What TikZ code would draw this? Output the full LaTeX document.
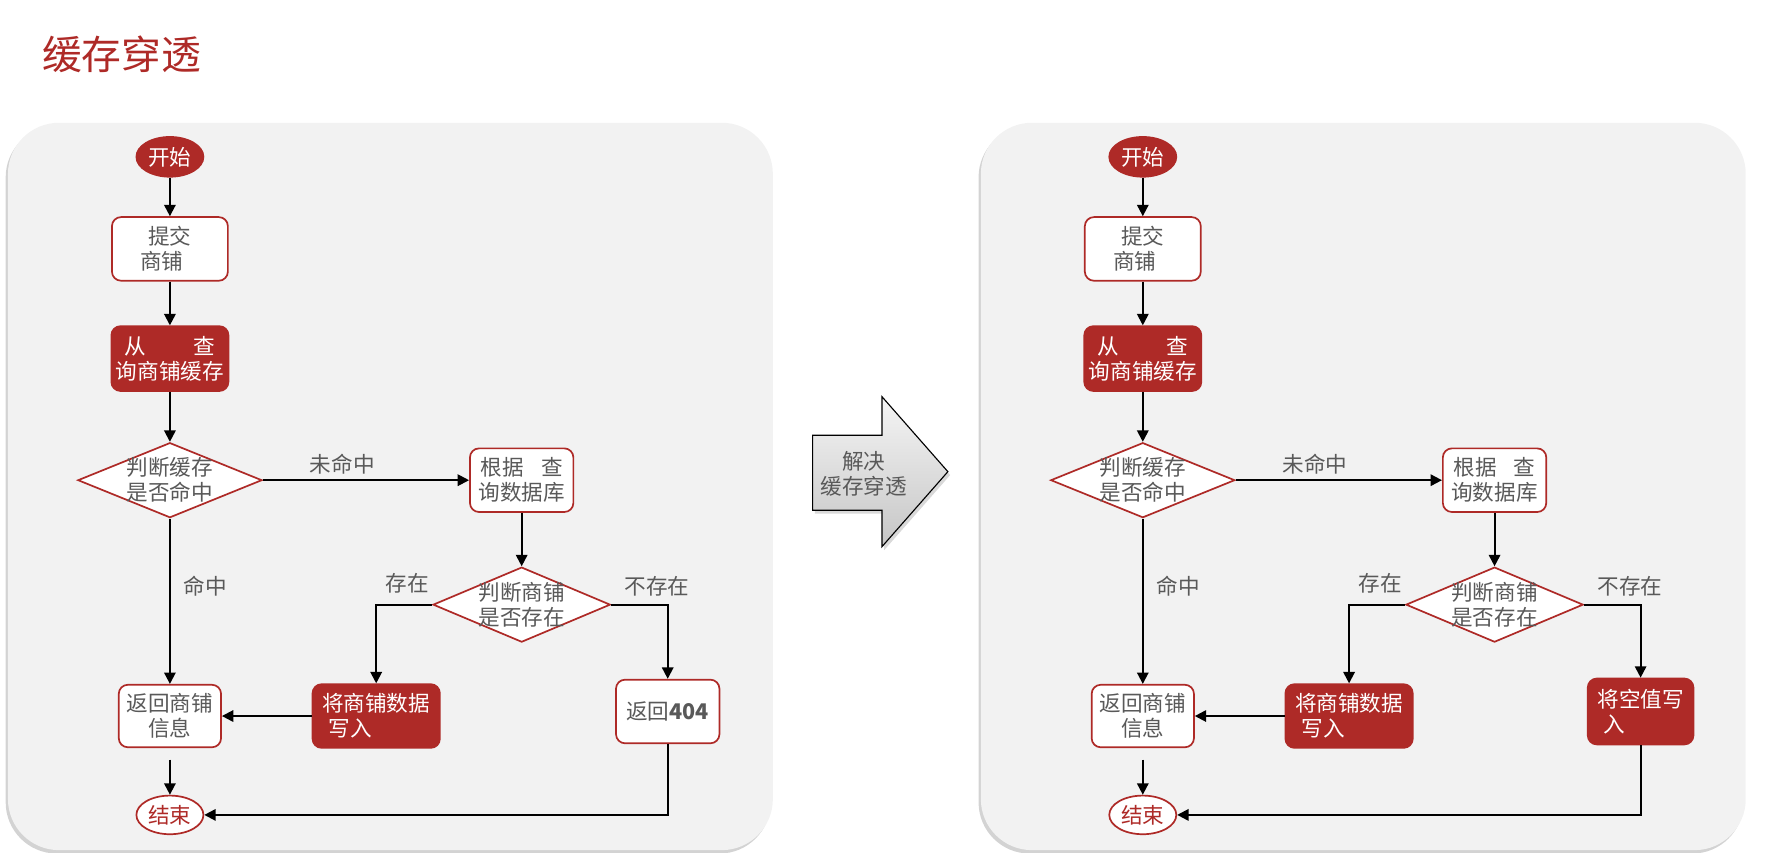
\documentclass[tikz,border=0pt]{standalone}
\usepackage{fontspec}
\setmainfont{Noto Sans CJK SC}
\usetikzlibrary{shapes.geometric,arrows.meta,shadows}
\definecolor{darkred}{HTML}{AE2A27}
\definecolor{txtgray}{HTML}{595959}
\definecolor{panelgray}{HTML}{F2F2F2}

\begin{document}
\begin{tikzpicture}[x=1pt, y=-1pt,
        every node/.style={font=\fontsize{19}{22}\selectfont, inner sep=0pt, text=txtgray},
        panel/.style={fill=panelgray, rounded corners=45pt, drop shadow={shadow xshift=-2pt, shadow yshift=-3pt, opacity=0.35}},
        whitebox/.style={draw=darkred, fill=white, line width=1.5pt, rounded corners=8pt, align=center},
        redbox/.style={draw=darkred, fill=darkred, line width=1.5pt, rounded corners=8pt, align=center, text=white},
        decision/.style={diamond, aspect=2.4, inner xsep=-10pt, inner ysep=-10pt, draw=darkred, fill=white, line width=1.5pt, align=center, minimum width=162pt, minimum height=66pt},
        terminal/.style={ellipse, draw=darkred, line width=1.5pt, minimum width=59pt, minimum height=35pt},
        flow/.style={-{Triangle[length=10pt, width=10pt]}, line width=1.7pt}]
    \useasboundingbox (0,0) rectangle (1560,750);
    \node[font=\fontsize{35}{40}\selectfont, text=darkred] (title) at (107,48) {缓存穿透};

    % left panel
    \fill[panel] (7,108) rectangle (680,748);
    \node[terminal, fill=darkred, text=white] (start1) at (149.5,138) {开始};
    \node[whitebox, minimum width=102pt, minimum height=56pt] (submit1) at (149.5,219) {提交\\商铺\rule{0.75em}{0pt}};
    \node[redbox, minimum width=103pt, minimum height=57pt] (cache1) at (149.5,315.5) {从\hspace{2.2em}查\\询商铺缓存};
    \node[decision] (hit1) at (149.5,422.5) {判断缓存\\是否命中};
    \node[whitebox, minimum width=91pt, minimum height=56pt] (db1) at (459,422.5) {根据\hspace{0.8em}查\\询数据库};
    \node[decision, minimum width=156pt] (exist1) at (459,532) {判断商铺\\是否存在};
    \node[whitebox, minimum width=90pt, minimum height=55pt] (back1) at (149.5,630) {返回商铺\\信息};
    \node[redbox, align=left, minimum width=112pt, minimum height=56pt] (write1) at (331,630) {将商铺数据\\\hspace{0.3em}写入};
    \node[whitebox, minimum width=91pt, minimum height=56pt] (ret1) at (587.5,626) {返回{\bfseries 404}};
    \node[terminal, fill=white, text=darkred, minimum height=34pt] (end1) at (149.5,717) {结束};
    \draw[flow] (start1) -- (submit1);
    \draw[flow] (submit1) -- (cache1);
    \draw[flow] (cache1) -- (hit1);
    \draw[flow] (hit1) -- node[pos=0.385, above=4.5pt] {未命中} (db1);
    \draw[flow] (hit1) -- node[pos=0.41, right=11.5pt] {命中} (back1);
    \draw[flow] (db1) -- (exist1);
    \draw[flow] (exist1.west) -| node[pos=0.22, above=9pt] {存在} (write1);
    \draw[flow] (exist1.east) -| node[pos=0.405, above=7pt] {不存在} (ret1);
    \draw[flow] (write1) -- (back1);
    \draw[flow, shorten <=10pt] (back1) -- (end1);
    \draw[flow] (ret1) |- (end1);

    % big arrow
    \shade[top color=gray!8, bottom color=gray!45, draw=black, line width=1pt, drop shadow={shadow xshift=2pt, shadow yshift=-3pt, opacity=0.3}]
        (715,383) -- (776,383) -- (776,349) -- (834,415) -- (776,481) -- (776,449) -- (715,449) -- cycle;
    \node[align=center] (solve) at (760,417) {解决\\缓存穿透};

    % right panel
    \fill[panel] (863,108) rectangle (1536,748);
    \node[terminal, fill=darkred, text=white] (start2) at (1005.5,138) {开始};
    \node[whitebox, minimum width=102pt, minimum height=56pt] (submit2) at (1005.5,219) {提交\\商铺\rule{0.75em}{0pt}};
    \node[redbox, minimum width=103pt, minimum height=57pt] (cache2) at (1005.5,315.5) {从\hspace{2.2em}查\\询商铺缓存};
    \node[decision] (hit2) at (1005.5,422.5) {判断缓存\\是否命中};
    \node[whitebox, minimum width=91pt, minimum height=56pt] (db2) at (1315,422.5) {根据\hspace{0.8em}查\\询数据库};
    \node[decision, minimum width=156pt] (exist2) at (1315,532) {判断商铺\\是否存在};
    \node[whitebox, minimum width=90pt, minimum height=55pt] (back2) at (1005.5,630) {返回商铺\\信息};
    \node[redbox, align=left, minimum width=112pt, minimum height=56pt] (write2) at (1187,630) {将商铺数据\\\hspace{0.3em}写入};
    \node[redbox, align=left, minimum width=93pt, minimum height=58pt] (null2) at (1443.5,626) {将空值写\\\hspace{0.3em}入};
    \node[terminal, fill=white, text=darkred, minimum height=34pt] (end2) at (1005.5,717) {结束};
    \draw[flow] (start2) -- (submit2);
    \draw[flow] (submit2) -- (cache2);
    \draw[flow] (cache2) -- (hit2);
    \draw[flow] (hit2) -- node[pos=0.385, above=4.5pt] {未命中} (db2);
    \draw[flow] (hit2) -- node[pos=0.41, right=11.5pt] {命中} (back2);
    \draw[flow] (db2) -- (exist2);
    \draw[flow] (exist2.west) -| node[pos=0.22, above=9pt] {存在} (write2);
    \draw[flow] (exist2.east) -| node[pos=0.405, above=7pt] {不存在} (null2);
    \draw[flow] (write2) -- (back2);
    \draw[flow, shorten <=10pt] (back2) -- (end2);
    \draw[flow] (null2) |- (end2);
\end{tikzpicture}
\end{document}
